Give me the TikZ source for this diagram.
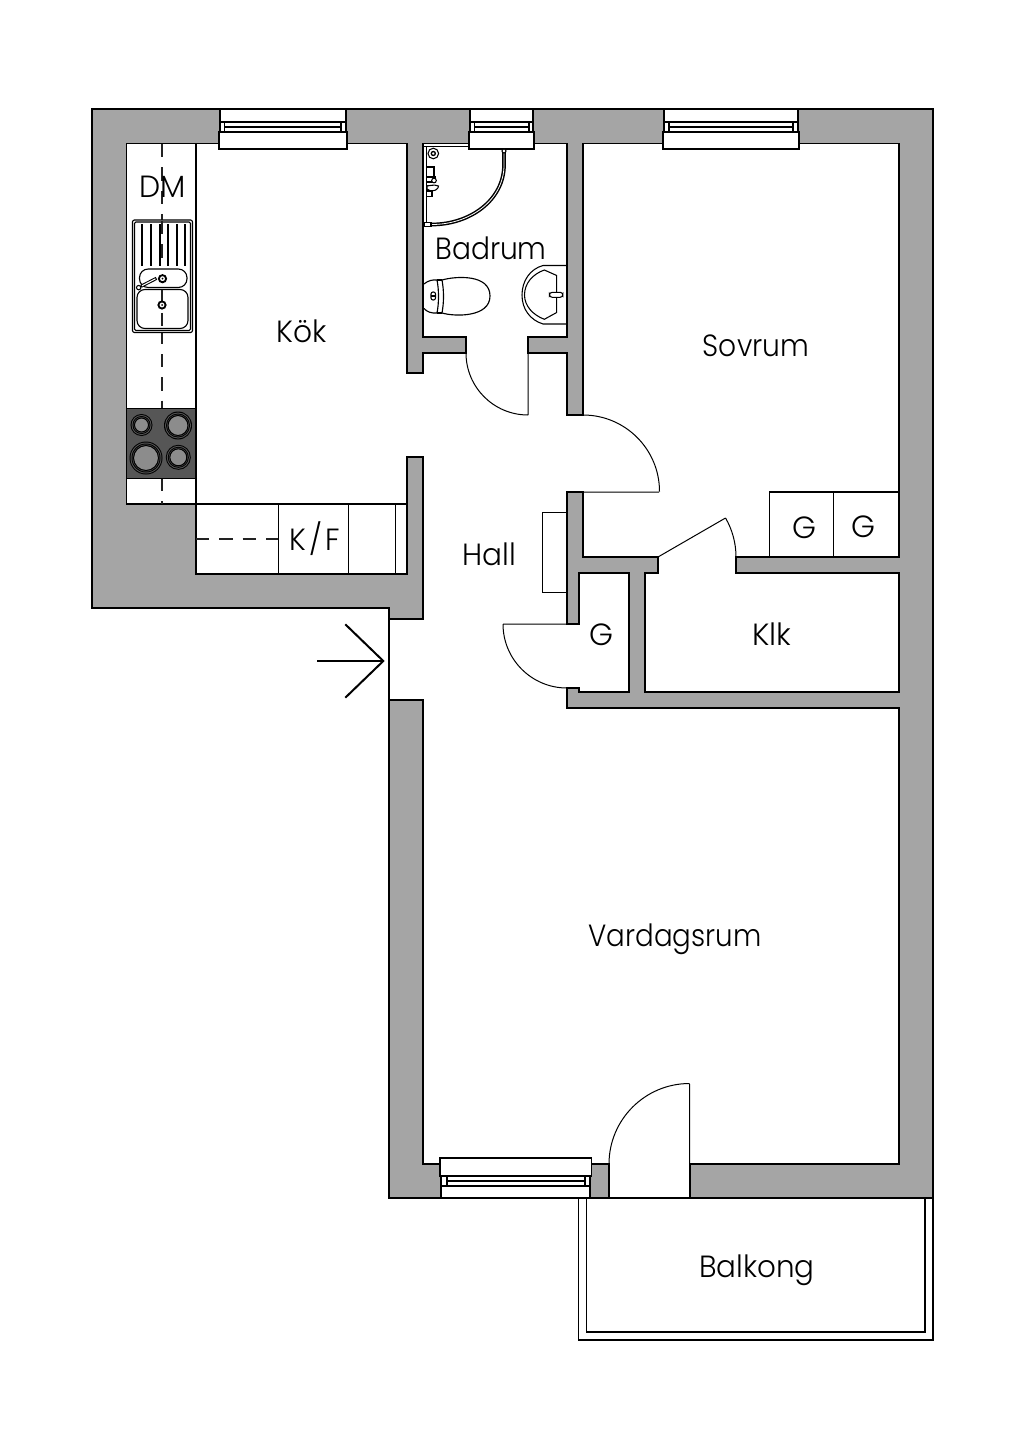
\documentclass[tikz,border=0pt]{standalone}
\usepackage{fontspec}
\setmainfont{Poppins Light}
\definecolor{wallgray}{HTML}{A5A5A5}
\definecolor{stovegray}{HTML}{565656}
\definecolor{plategray}{HTML}{8C8C8C}
\definecolor{dashgray}{HTML}{222222}
\tikzset{
  wall/.style={fill=wallgray,draw=black,line width=0.95pt,line join=miter},
  ln/.style={draw=black,line width=0.95pt},
  thinln/.style={draw=black,line width=0.8pt},
  doorln/.style={draw=black,line width=0.75pt},
  dashln/.style={draw=dashgray,line width=0.8pt,dash pattern=on 10pt off 7.5pt},
  fix/.style={draw=black,fill=white,line width=0.85pt},
  lab/.style={font=\fontsize{23pt}{27pt}\selectfont,inner sep=0pt,text=black,anchor=base},
}
\newcommand{\stretched}[2]{\addfontfeature{FakeStretch=#1}#2}
\newcommand{\topwin}[4]{% outer x1,x2 inner x1,x2
  \fill[white] (#1,109) rectangle (#2,143.5);
  \draw[ln] (#1,109)--(#2,109);
  \draw[ln] (#1,109)--(#1,132) (#2,109)--(#2,132);
  \draw[ln] (#1,122)--(#2,122) (#3,127)--(#4,127);
  \draw[ln] (#3,122)--(#3,132) (#4,122)--(#4,132);
  \draw[ln,fill=white] (#1-1,132) rectangle (#2+1,149);
}
\newcommand{\burner}[3]{% x y r
  \fill[black] (#1,#2) circle[radius=#3];
  \fill[stovegray] (#1,#2) circle[radius=#3-1];
  \fill[black] (#1,#2) circle[radius=#3-2];
  \fill[stovegray] (#1,#2) circle[radius=#3-3];
  \draw[thinln,fill=plategray] (#1,#2) circle[radius=#3-4];
}
\begin{document}
\begin{tikzpicture}[x=0.75pt,y=-0.75pt]
\useasboundingbox (0,0) rectangle (1024,1448);
% main wall body
\draw[wall] (92,109)--(933,109)--(933,1198)--(690,1198)--(690,1164)--(899,1164)--(899,708)--(567,708)--(567,688)--(579,688)--(579,692)--(629,692)--(629,573)--(579,573)--(579,624)--(567,624)--(567,492)--(583,492)--(583,557)--(658,557)--(658,573)--(645,573)--(645,692)--(899,692)--(899,573)--(736,573)--(736,557)--(899,557)--(899,143.5)--(583,143.5)--(583,415)--(567,415)--(567,353)--(528,353)--(528,337)--(567,337)--(567,143.5)--(423,143.5)--(423,337)--(466,337)--(466,353)--(423,353)--(423,373)--(407,373)--(407,143.5)--(126.5,143.5)--(126.5,504)--(196,504)--(196,574)--(407,574)--(407,457)--(423,457)--(423,619)--(389,619)--(389,608)--(92,608)--cycle;
% living room left wall
\draw[wall] (389,700)--(423,700)--(423,1164)--(609,1164)--(609,1198)--(389,1198)--cycle;
% entry and balcony door threshold
\draw[ln] (389,619)--(389,700);
\draw[ln] (609,1198)--(690,1198);
% windows
\topwin{220}{346}{224.5}{341}
\topwin{470}{533}{474.5}{529}
\topwin{664}{798}{669}{793}
\fill[white] (441,1164) rectangle (590,1198);
\draw[ln] (441,1176)--(590,1176) (447,1181)--(585,1181) (441,1186)--(590,1186);
\draw[ln] (447,1176)--(447,1186) (585,1176)--(585,1186);
\draw[ln] (441,1176)--(441,1198) (590,1176)--(590,1198) (441,1198)--(590,1198);
\draw[ln,fill=white] (440,1158) rectangle (591.5,1176);
% doors
\draw[doorln] (528,353)--(528,415) (466,353) arc[start angle=180,end angle=90,radius=62];
\draw[doorln] (583,492)--(659,492) (583,415) arc[start angle=-90,end angle=0,radius=76.5];
\draw[doorln] (567,624)--(503,624) (503,624) arc[start angle=180,end angle=90,radius=64];
\draw[doorln] (658,557)--(725.5,518) (736,557) arc[start angle=0,end angle=-30,radius=78];
\draw[doorln] (689.5,1164)--(689.5,1084) (609,1164) arc[start angle=180,end angle=270,radius=80.5];
% kitchen counter
\draw[ln] (196,143.5)--(196,504);
\draw[dashln] (162,144)--(162,408);
\draw[dashln] (162,478)--(162,504);
% stove
\draw[ln,fill=stovegray] (126.5,408.5) rectangle (196,478.5);
\burner{141.5}{425}{11}
\burner{178}{425.5}{14}
\burner{146}{458}{16.5}
\burner{178.3}{457.3}{12.5}
% lower counter
\draw[ln] (278.3,504)--(278.3,574) (348.3,504)--(348.3,574) (395.7,504)--(395.7,574);
\draw[ln] (196,504)--(407,504);
\draw[dashln] (196,539)--(278,539);
% sink
\draw[fix,rounded corners=1.5pt] (132.5,220) rectangle (192.5,332.5);
\draw[thinln,rounded corners=1pt] (134.5,222) rectangle (190.5,330.5);
\draw[dashln] (162,221)--(162,266);
\foreach \rx in {142.3,151,159.7,168.3,176.7,185.3}
  \draw[draw=black,line width=1.3pt] (\rx,224.5)--(\rx,266);
\draw[fix,rounded corners=6.5pt] (139.5,269) rectangle (187,287.5);
\draw[fix,rounded corners=6pt] (137,289.5) rectangle (188,328.5);
\draw[dashln] (162,289.5)--(162,328);
\draw[black,line width=2.4pt] (156.5,278.3)--(141,286.3);
\draw[white,line width=0.8pt] (155.5,278.8)--(142,285.8);
\draw[thinln,fill=white] (138.7,287.6) circle[radius=2.2];
\draw[black,line width=1.4pt,fill=white] (162.5,278.7) circle[radius=3.6];
\draw[black,line width=1.4pt,fill=white] (162,305) circle[radius=3.6];
\fill (162.5,278.7) circle[radius=1];
\fill (162,305) circle[radius=1];
% shower
\draw[thinln] (423,146.5)--(469,146.5) (426.7,146.5)--(426.7,225);
\draw[black,line width=2.8pt] (504,152)--(504,165) .. controls (504,200) and (470,224.5) .. (432,224.5);
\draw[white,line width=0.6pt] (504,152)--(504,165) .. controls (504,200) and (470,224.5) .. (432,224.5);
\draw[thinln,fill=white] (504,151) circle[radius=2];
\draw[thinln,fill=white] (424,222.5) rectangle (431,226.5);
\draw[thinln] (433.3,153.5) circle[radius=5.3];
\draw[black,line width=1pt] (433.3,153.5) circle[radius=2];
\draw[thinln,fill=white] (426.5,167) rectangle (434,177);
\draw[thinln,fill=white] (426.5,177) rectangle (435,182);
\draw[thinln,fill=white] (434,180.5) circle[radius=2.3];
\fill[black] (427,185) rectangle (431,191);
\draw[thinln,fill=white] (427,189) .. controls (434,194) and (439,188) .. (438.5,186) .. controls (433,184) and (431,186) .. (427,186) -- cycle;
\draw[thinln,fill=white] (426.5,191) rectangle (432,196.5);
% toilet
\draw[fix] (424,284) .. controls (428,280.5) and (433,279.5) .. (437,280) .. controls (439,290) and (439,303) .. (437,313) .. controls (432,313.5) and (427,312) .. (424,308.5);
\draw[fix] (442,280) .. controls (456,276) and (490,274) .. (490,296) .. controls (490,317) and (456,317) .. (442,313) .. controls (444,302) and (444,291) .. (442,280);
\draw[thinln] (437,280)--(442,280) (437,313)--(442,313);
\draw[thinln,rounded corners=1.5pt] (431,292) rectangle (435.5,300);
\draw[thinln] (431,296)--(435.5,296);
% basin
\draw[thinln] (567,265.5)--(543,265.5) .. controls (530,269) and (522,281) .. (522,295) .. controls (522,309) and (530,320) .. (543,324) -- (567,324);
\draw[thinln] (544.3,270) -- (556.7,275.5) -- (556.7,312.5) -- (544.3,319.3) .. controls (533,315) and (524.5,306) .. (524.5,295) .. controls (524.5,283) and (533,274) .. (544.3,270) -- cycle;
\draw[thinln,fill=white,rounded corners=2pt] (549.5,292.3) rectangle (562.8,297.3);
% hall shelf
\draw[doorln] (567,512)--(542.3,512)--(542.3,592)--(567,592);
% wardrobes
\draw[ln] (769.3,557)--(769.3,492)--(899,492) (833.7,492)--(833.7,557);
% balcony
\draw[ln] (578.5,1198)--(578.5,1340)--(933,1340)--(933,1198);
\draw[ln] (586.5,1198)--(586.5,1332)--(925,1332)--(925,1198);
% entry arrow
\draw[black,line width=1.5pt,miter limit=10] (345.3,624.3)--(383.3,661)--(345.3,697.7);
\draw[black,line width=1.5pt] (317.3,661)--(383.3,661);
% labels
\node[lab] (dm) at (163,197.5) {\stretched{0.976}{DM}};
\node[lab] (kok) at (302,342.5) {\stretched{0.968}{Kök}};
\node[lab] (badrum) at (491,259.5) {\stretched{0.916}{Badrum}};
\node[lab] (sovrum) at (756,356.5) {\stretched{0.917}{Sovrum}};
\node[lab] (kf) at (315,550.5) {\stretched{0.96}{K\kern2.5pt/\kern2.5pt F}};
\node[lab] (hall) at (489,565) {\stretched{0.964}{Hall}};
\node[lab] (g1) at (804,538.5) {G};
\node[lab] (g2) at (863,537) {G};
\node[lab] (g3) at (601,645) {G};
\node[lab] (klk) at (772,645) {\stretched{0.996}{Klk}};
\node[lab] (vard) at (675,946.5) {\stretched{0.902}{Vardagsrum}};
\node[lab] (balkong) at (757,1277.5) {\stretched{0.958}{Balkong}};
\end{tikzpicture}
\end{document}
